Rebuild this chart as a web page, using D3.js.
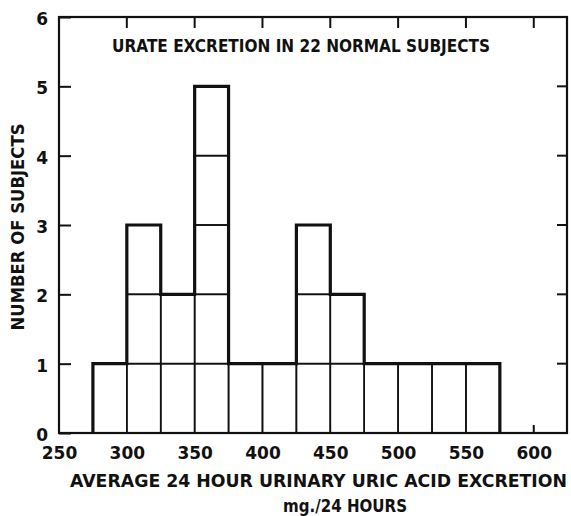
<!DOCTYPE html>
<html>
<head>
  <script src="https://d3js.org/d3.v7.min.js"></script>
  <style>
    body { margin: 0; background: #fff; }
    text { font-family: "DejaVu Sans", sans-serif; font-weight: bold; fill: #111; }
  </style>
</head>
<body>
<script type="text/javascript">

  // bins of 25 mg, left edges
  var binStarts = [275, 300, 325, 350, 375, 400, 425, 450, 475, 500, 525, 550];
  var counts = [1, 3, 2, 5, 1, 1, 3, 2, 1, 1, 1, 1];
  var binWidth = 25;
  var xTicks = [250, 300, 350, 400, 450, 500, 550, 600];
  var yTicks = [0, 1, 2, 3, 4, 5, 6];

  var w = 571, h = 516;
  var padL = 59, padR = 567, padT = 17, padB = 433;

  var svg = d3.select("body").append("svg")
      .attr("width", w)
      .attr("height", h);

  var x = d3.scaleLinear().domain([250, 624.5]).range([padL, padR]);
  var y = d3.scaleLinear().domain([0, 6]).range([padB, padT]);

  // one box per subject
  var cells = [];
  binStarts.forEach(function(b, i){
    for (var k = 1; k <= counts[i]; k++) cells.push({x0: b, k: k});
  });

  svg.selectAll("rect.cell")
      .data(cells)
      .enter()
      .append("rect")
      .attr("class", "cell")
      .attr("x", function(d){ return x(d.x0); })
      .attr("y", function(d){ return y(d.k); })
      .attr("width", function(d){ return x(d.x0 + binWidth) - x(d.x0); })
      .attr("height", function(d){ return y(d.k - 1) - y(d.k); })
      .attr("fill", "none")
      .attr("stroke", "#111")
      .attr("stroke-width", 1.6);

  // heavy outline of the histogram
  var pts = [[binStarts[0], 0]];
  binStarts.forEach(function(b, i){
    pts.push([b, counts[i]]);
    pts.push([b + binWidth, counts[i]]);
  });
  pts.push([binStarts[binStarts.length - 1] + binWidth, 0]);

  svg.append("path")
      .attr("d", d3.line().x(function(d){ return x(d[0]); }).y(function(d){ return y(d[1]); })(pts))
      .attr("fill", "none")
      .attr("stroke", "#111")
      .attr("stroke-width", 3.2)
      .attr("stroke-linejoin", "miter");

  // frame
  svg.append("rect")
      .attr("x", padL).attr("y", padT)
      .attr("width", padR - padL).attr("height", padB - padT)
      .attr("fill", "none")
      .attr("stroke", "#111")
      .attr("stroke-width", 2.2);

  // inward ticks
  var bottomAxis = d3.axisBottom(x).tickValues(xTicks).tickSize(0).tickPadding(14);
  var gx = svg.append("g").attr("transform", "translate(0," + padB + ")").call(bottomAxis);
  gx.select(".domain").remove();
  gx.selectAll("text").attr("font-size", 17).attr("font-family", null);

  svg.selectAll("line.xt")
      .data(xTicks.filter(function(d){ return d > 250; }))
      .enter()
      .append("line")
      .attr("class", "xt")
      .attr("x1", function(d){ return x(d); }).attr("x2", function(d){ return x(d); })
      .attr("y1", padT).attr("y2", padT + 11)
      .attr("stroke", "#111").attr("stroke-width", 2);

  svg.append("line")
      .attr("x1", x(600)).attr("x2", x(600))
      .attr("y1", padB).attr("y2", padB - 8)
      .attr("stroke", "#111").attr("stroke-width", 2);

  var leftAxis = d3.axisLeft(y).tickValues(yTicks).tickFormat(d3.format("d"))
      .tickSize(-12).tickPadding(11);
  var gy = svg.append("g").attr("transform", "translate(" + padL + ",0)").call(leftAxis);
  gy.select(".domain").remove();
  gy.selectAll("line").attr("stroke", "#111").attr("stroke-width", 2);
  gy.selectAll("text").attr("font-size", 17).attr("font-family", null).attr("dy", "0.45em");

  svg.selectAll("line.yr")
      .data(yTicks.filter(function(d){ return d > 0 && d < 6; }))
      .enter()
      .append("line")
      .attr("class", "yr")
      .attr("x1", padR).attr("x2", padR - 10)
      .attr("y1", function(d){ return y(d); }).attr("y2", function(d){ return y(d); })
      .attr("stroke", "#111").attr("stroke-width", 2);

  // labels
  svg.append("text")
      .attr("x", 112).attr("y", 52)
      .attr("font-size", 17)
      .attr("textLength", 378).attr("lengthAdjust", "spacingAndGlyphs")
      .text("URATE EXCRETION IN 22 NORMAL SUBJECTS");

  svg.append("text")
      .attr("transform", "translate(24,227) rotate(-90)")
      .attr("text-anchor", "middle")
      .attr("font-size", 17)
      .attr("textLength", 207).attr("lengthAdjust", "spacingAndGlyphs")
      .text("NUMBER OF SUBJECTS");

  svg.append("text")
      .attr("x", 70).attr("y", 487)
      .attr("font-size", 17)
      .attr("textLength", 497).attr("lengthAdjust", "spacingAndGlyphs")
      .text("AVERAGE 24 HOUR URINARY URIC ACID EXCRETION");

  svg.append("text")
      .attr("x", 283).attr("y", 512)
      .attr("font-size", 17)
      .attr("textLength", 124).attr("lengthAdjust", "spacingAndGlyphs")
      .text("mg./24 HOURS");

</script>
</body>
</html>
